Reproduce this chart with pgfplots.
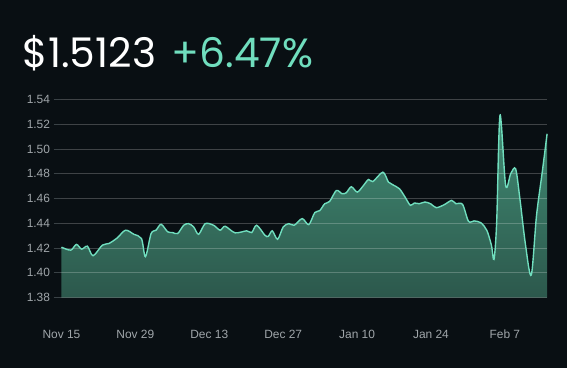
\documentclass[border=0pt]{standalone}
\usepackage{pgfplots}
\pgfplotsset{compat=1.18}
\usepackage{pgfplotstable}
\usepackage{fontspec}
\setmainfont{Liberation Sans}
\newfontfamily\poppins{Poppins}
\definecolor{bg}{RGB}{9,15,19}
\definecolor{mint}{RGB}{112,222,190}
\definecolor{tickgray}{RGB}{160,166,170}
\definecolor{gridc}{RGB}{58,66,70}
\definecolor{filltop}{RGB}{66,142,118}
\definecolor{fillbot}{RGB}{44,88,76}

\pgfplotstableread{
x y
0 1.4207
1.75 1.4183
2.83 1.4229
3.83 1.4191
4.91 1.4215
5.98 1.4138
7.74 1.4223
9.00 1.4237
10.57 1.4282
12.13 1.4344
13.72 1.4311
15.15 1.4277
15.91 1.4130
16.98 1.4317
17.92 1.4344
18.87 1.4392
20.13 1.4331
21.08 1.4325
22.02 1.4317
23.15 1.4384
24.09 1.4397
25.04 1.4371
25.98 1.4311
27.23 1.4397
28.81 1.4384
30.06 1.4344
31.00 1.4376
32.89 1.4323
35.09 1.4339
36.04 1.4325
36.98 1.4384
38.55 1.4303
39.19 1.4295
39.94 1.4339
40.94 1.4271
42.02 1.4371
43.08 1.4397
44.09 1.4384
45.60 1.4438
46.85 1.4389
47.98 1.4486
48.92 1.4502
49.87 1.4558
50.81 1.4577
52.08 1.4665
53.15 1.4639
53.96 1.4647
54.91 1.4695
56.04 1.4652
57.11 1.4700
58.17 1.4754
59.00 1.4737
60.89 1.4813
61.94 1.4733
62.77 1.4711
64.02 1.4679
65.09 1.4612
66.09 1.4545
66.85 1.4564
67.79 1.4558
68.87 1.4572
70.00 1.4556
71.00 1.4526
72.51 1.4550
73.91 1.4585
74.72 1.4558
75.98 1.4553
77.11 1.4416
78.17 1.4419
79.43 1.4405
80.57 1.4344
81.45 1.4223
81.94 1.4108
82.45 1.4411
83.08 1.5274
84.15 1.4705
85.09 1.4799
86.04 1.4840
86.85 1.4598
87.92 1.4223
89.00 1.3982
90.00 1.4464
91.08 1.4813
92.00 1.5123
}\datatable

\begin{document}
\pagecolor{bg}
\begin{tikzpicture}
\begin{axis}[
  set layers,
  scale only axis, width=488pt, height=199pt,
  xmin=0, xmax=92, ymin=1.38, ymax=1.54,
  axis line style={draw=none},
  ytick={1.38,1.40,...,1.54},
  ytick pos=left,
  tick align=outside,
  major tick length=8pt,
  ytick style={draw=gridc, line width=0.8pt},
  ymajorgrids,
  major grid style={draw=white, opacity=0.22, line width=0.8pt},
  xtick={0,14,28,42,56,70,84},
  xticklabels={Nov 15,Nov 29,Dec 13,Dec 27,Jan 10,Jan 24,Feb 7},
  xtick style={draw=none},
  xticklabel style={yshift=-21pt, text=tickgray, font=\fontsize{12}{14}\selectfont},
  yticklabel style={text=tickgray, font=\fontsize{12}{14}\selectfont, /pgf/number format/fixed, /pgf/number format/fixed zerofill, /pgf/number format/precision=2},
  /pgf/number format/assume math mode=true,
  clip=false,
]
\addplot[on layer=axis background, draw=none, top color=filltop, bottom color=fillbot, smooth, tension=0.5] table[x=x,y=y] {\datatable} \closedcycle;
\addplot[mint, line width=1.4pt, smooth, tension=0.5] table[x=x,y=y] {\datatable};
\end{axis}
\path (-59pt,-71pt) rectangle (508pt,299pt);
\node[anchor=base west, inner sep=0, font=\poppins\fontsize{41}{41}\selectfont] at (-39pt,231pt) {\textcolor{white}{\$1.5123}\hspace{16pt}\textcolor{mint}{+6.47\%}};
\end{tikzpicture}
\end{document}
